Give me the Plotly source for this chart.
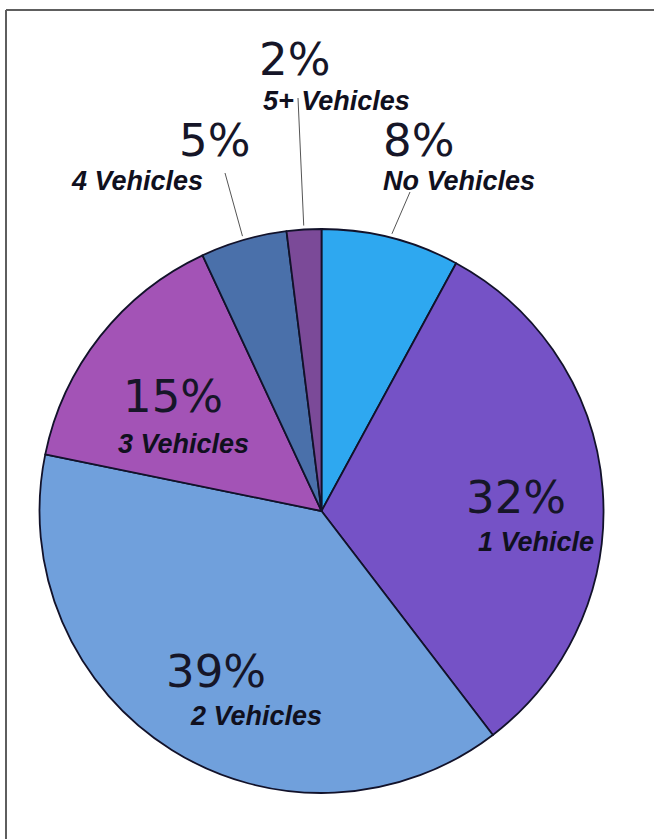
import math
import plotly.graph_objects as go

# Household vehicle ownership shares (percent)
categories = ["No Vehicles", "1 Vehicle", "2 Vehicles", "3 Vehicles", "4 Vehicles", "5+ Vehicles"]
shares = [8, 32, 39, 15, 5, 2]
colors = ["#2ea8f0", "#7552c6", "#70a0dc", "#a353b6", "#4a70aa", "#7b4a98"]

W, H = 654, 839
CX, CY, R = 321.5, 511, 282  # pie centre and radius in pixels


def px(x, y):
    """Pixel position (from top-left) to paper coordinates."""
    return x / W, 1 - y / H


fig = go.Figure(
    go.Pie(
        labels=categories,
        values=shares,
        sort=False,
        direction="clockwise",
        rotation=0,
        textinfo="none",
        hoverinfo="label+value",
        marker=dict(colors=colors, line=dict(color="#12122a", width=1.8)),
        domain=dict(
            x=[(CX - R) / W, (CX + R) / W],
            y=[1 - (CY + R) / H, 1 - (CY - R) / H],
        ),
    )
)

total = sum(shares)


def edge_point(i, extra=4):
    """Point just outside the rim at the middle of slice i."""
    start = sum(shares[:i]) / total
    mid = (start + shares[i] / total / 2) * 2 * math.pi
    r = R + extra
    return CX + r * math.sin(mid), CY - r * math.cos(mid)


# Label placement: (percent left x, percent y, name left x, name y)
label_pos = {
    "No Vehicles": (382, 141, 382, 181),
    "1 Vehicle": (465, 497, 477, 542),
    "2 Vehicles": (165, 671, 189, 716),
    "3 Vehicles": (122, 397, 117, 444),
    "4 Vehicles": (178, 141, 70, 181),
    "5+ Vehicles": (258, 60, 262, 101),
}
# Outer ends of the leader lines for the labels placed outside the pie
leader_tail = {"No Vehicles": (410, 192), "4 Vehicles": (225, 173), "5+ Vehicles": (298, 98)}

pct_font = dict(family="DejaVu Sans", size=45, color="#161628")
name_font = dict(family="Liberation Sans", size=27, color="#10101e", weight="bold", style="italic")

annotations = []
for i, (cat, val) in enumerate(zip(categories, shares)):
    x1, y1, x2, y2 = label_pos[cat]
    ax, ay = px(x1, y1)
    annotations.append(dict(x=ax, y=ay, xref="paper", yref="paper", text=f"{val}%",
                            showarrow=False, xanchor="left", yanchor="middle",
                            font=pct_font, borderpad=0))
    bx, by = px(x2, y2)
    annotations.append(dict(x=bx, y=by, xref="paper", yref="paper", text=cat,
                            showarrow=False, xanchor="left", yanchor="middle",
                            font=name_font, borderpad=0))

shapes = []
for i, cat in enumerate(categories):
    if cat in leader_tail:
        tx, ty = px(*leader_tail[cat])
        ex, ey = px(*edge_point(i))
        shapes.append(dict(type="line", xref="paper", yref="paper", x0=tx, y0=ty, x1=ex, y1=ey,
                           line=dict(color="#555555", width=1)))

# Frame along the top and left edges
fx0, fy0 = px(6, 10)
shapes.append(dict(type="line", xref="paper", yref="paper", x0=fx0, y0=fy0, x1=1, y1=fy0,
                   line=dict(color="#5e5e5e", width=2)))
shapes.append(dict(type="line", xref="paper", yref="paper", x0=fx0, y0=fy0, x1=fx0, y1=0,
                   line=dict(color="#5e5e5e", width=2)))

fig.update_layout(
    width=W,
    height=H,
    margin=dict(l=0, r=0, t=0, b=0),
    paper_bgcolor="white",
    plot_bgcolor="white",
    showlegend=False,
    annotations=annotations,
    shapes=shapes,
)

fig.write_html("out.html")
